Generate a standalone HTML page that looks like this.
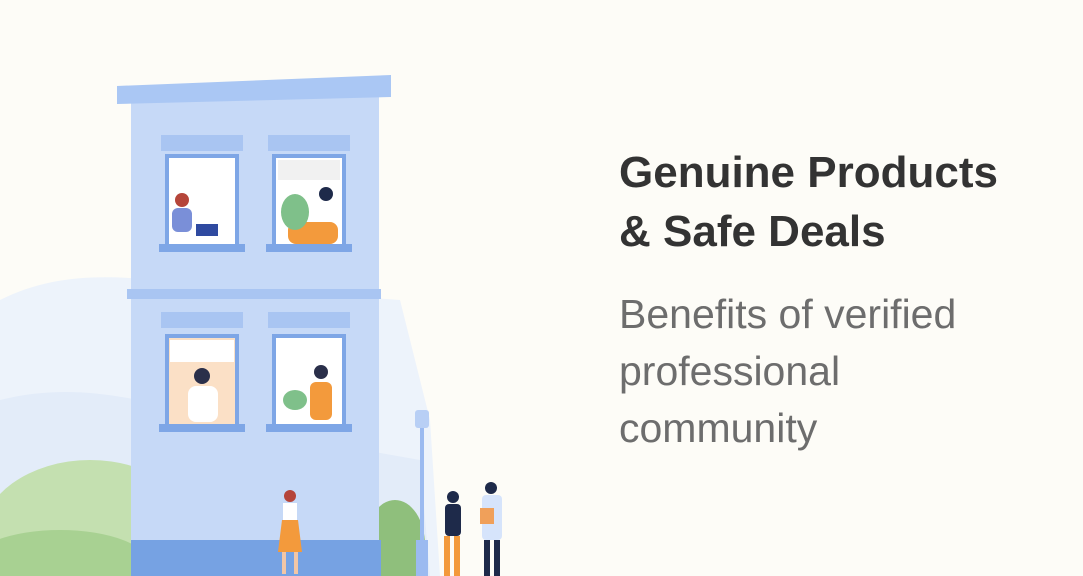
<!DOCTYPE html>
<html><head><meta charset="utf-8"><style>
html,body{margin:0;padding:0;width:1083px;height:576px;overflow:hidden;background:#fdfcf7;}
svg{position:absolute;left:0;top:0}
.t{position:absolute;left:619px;font-family:"Liberation Sans",sans-serif;white-space:nowrap}
#h{top:143px;font-size:44px;font-weight:bold;color:#333;line-height:59px;}
#s{top:286px;font-size:41px;color:#6d6d6d;line-height:57px;}
</style></head><body>
<svg width="1083" height="576">
 <path d="M0 300 C60 270 120 275 200 285 L400 300 L430 420 L440 576 L0 576Z" fill="#edf3fb"/>
 <path d="M0 400 C80 380 150 400 250 430 L420 460 L430 576 L0 576Z" fill="#e3ecf9"/>
 <ellipse cx="90" cy="540" rx="110" ry="80" fill="#c4e0b0"/>
 <ellipse cx="60" cy="565" rx="90" ry="35" fill="#a8d192"/>
 <ellipse cx="395" cy="545" rx="30" ry="45" fill="#8fbf7c"/>
 <rect x="131" y="95" width="248" height="450" fill="#c6d9f7"/>
 <polygon points="117,86 391,75 391,97 117,104" fill="#aac7f4"/>
 <rect x="127" y="289" width="254" height="10" fill="#a9c5f2"/>
 <rect x="131" y="540" width="250" height="36" fill="#76a2e3"/>
 <g>
  <rect x="161" y="135" width="82" height="16" fill="#a9c5f2"/><rect x="268" y="135" width="82" height="16" fill="#a9c5f2"/>
  <rect x="161" y="312" width="82" height="16" fill="#a9c5f2"/><rect x="268" y="312" width="82" height="16" fill="#a9c5f2"/>
  <rect x="167" y="156" width="70" height="90" fill="#fff" stroke="#7ea6e6" stroke-width="4"/>
  <rect x="274" y="156" width="70" height="90" fill="#fff" stroke="#7ea6e6" stroke-width="4"/>
  <rect x="167" y="336" width="70" height="90" fill="#fbe0c6" stroke="#7ea6e6" stroke-width="4"/>
  <rect x="274" y="336" width="70" height="90" fill="#fff" stroke="#7ea6e6" stroke-width="4"/>
  <rect x="159" y="244" width="86" height="8" fill="#7ea6e6"/><rect x="266" y="244" width="86" height="8" fill="#7ea6e6"/>
  <rect x="159" y="424" width="86" height="8" fill="#7ea6e6"/><rect x="266" y="424" width="86" height="8" fill="#7ea6e6"/>
  <rect x="170" y="340" width="64" height="22" fill="#fff"/><rect x="278" y="160" width="62" height="20" fill="#f1f1f1"/>
 </g>
 <g>
  <circle cx="182" cy="200" r="7" fill="#b5453a"/><rect x="172" y="208" width="20" height="24" rx="6" fill="#7a8fd8"/><rect x="196" y="224" width="22" height="12" fill="#2f4aa0"/>
  <circle cx="326" cy="194" r="7" fill="#1e2a4a"/><rect x="316" y="203" width="22" height="22" rx="6" fill="#fff"/><rect x="288" y="222" width="50" height="22" rx="8" fill="#f39a3c"/><ellipse cx="295" cy="212" rx="14" ry="18" fill="#7fc08a"/>
  <circle cx="202" cy="376" r="8" fill="#2a2f4a"/><rect x="188" y="386" width="30" height="36" rx="8" fill="#fff"/>
  <circle cx="321" cy="372" r="7" fill="#2a2f4a"/><rect x="310" y="382" width="22" height="38" rx="6" fill="#f39a3c"/><ellipse cx="295" cy="400" rx="12" ry="10" fill="#7fc08a"/>
  <circle cx="290" cy="496" r="6" fill="#b5453a"/><rect x="283" y="503" width="14" height="18" fill="#fff"/><polygon points="282,520 298,520 302,552 278,552" fill="#f39a3c"/><rect x="282" y="552" width="4" height="22" fill="#f3c6a6"/><rect x="294" y="552" width="4" height="22" fill="#f3c6a6"/>
  <circle cx="453" cy="497" r="6" fill="#1e2a4a"/><rect x="445" y="504" width="16" height="32" rx="4" fill="#1e2a4a"/><rect x="444" y="536" width="6" height="40" fill="#f39a3c"/><rect x="454" y="536" width="6" height="40" fill="#f39a3c"/>
  <circle cx="491" cy="488" r="6" fill="#1e2a4a"/><rect x="482" y="495" width="20" height="45" rx="4" fill="#d6e4fb"/><rect x="484" y="540" width="6" height="36" fill="#1e2a4a"/><rect x="494" y="540" width="6" height="36" fill="#1e2a4a"/><rect x="480" y="508" width="14" height="16" fill="#f0a05a"/>
 </g>
 <g>
  <rect x="420" y="425" width="4" height="151" fill="#9bbaf0"/><rect x="415" y="410" width="14" height="18" rx="3" fill="#b8cff5"/><rect x="416" y="540" width="12" height="36" fill="#9bbaf0"/>
 </g>
</svg>
<div class="t" id="h">Genuine Products<br>&amp; Safe Deals</div>
<div class="t" id="s">Benefits of verified<br>professional<br>community</div>
</body></html>
